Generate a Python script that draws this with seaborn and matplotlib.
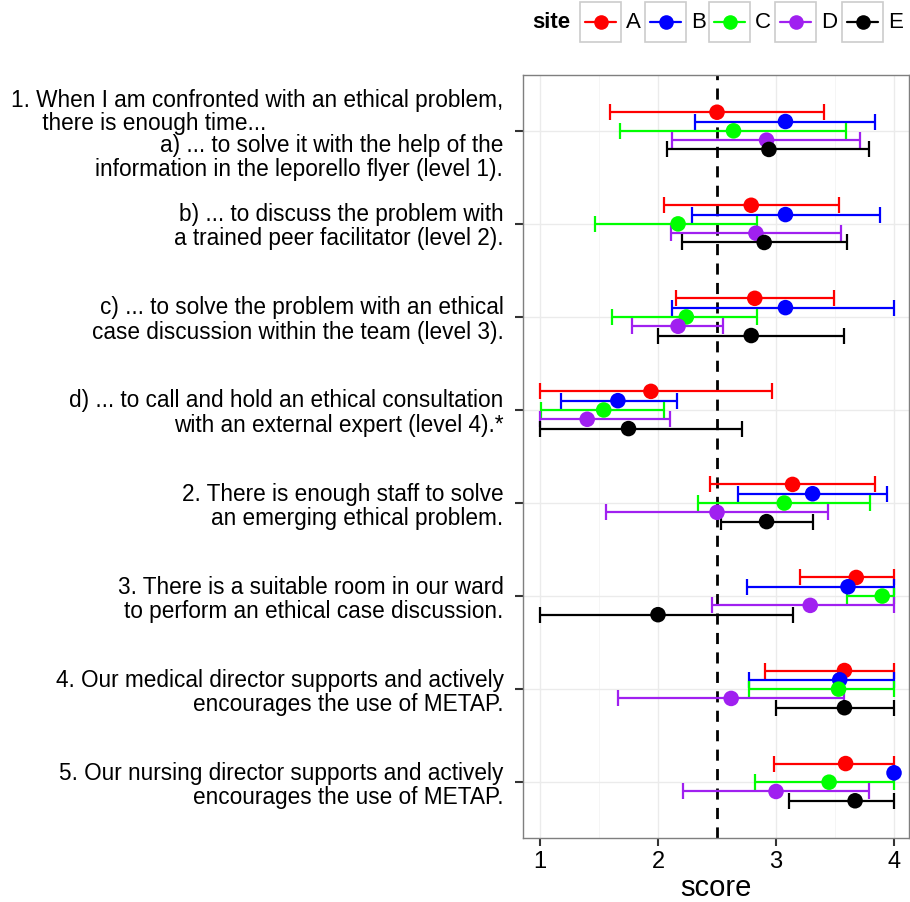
import numpy as np
import pandas as pd
import matplotlib
matplotlib.use("Agg")
import matplotlib.pyplot as plt
from matplotlib.patches import Rectangle
from matplotlib.lines import Line2D
import seaborn as sns

# questions, top to bottom (the first one has a two-line lead-in above it)
lead_in = "1. When I am confronted with an ethical problem,\n     there is enough time..."
questions = [
    "a) ... to solve it with the help of the\n"
    "information in the leporello flyer (level 1).",
    "b) ... to discuss the problem with\na trained peer facilitator (level 2).",
    "c) ... to solve the problem with an ethical\ncase discussion within the team (level 3).",
    "d) ... to call and hold an ethical consultation\nwith an external expert (level 4).*",
    "2. There is enough staff to solve\nan emerging ethical problem.",
    "3. There is a suitable room in our ward\nto perform an ethical case discussion.",
    "4. Our medical director supports and actively\nencourages the use of METAP.",
    "5. Our nursing director supports and actively\nencourages the use of METAP.",
]

sites = ["A", "B", "C", "D", "E"]
site_colors = ["#FF0000", "#0000FF", "#00FF00", "#A020F0", "#000000"]

# mean score and lower / upper end of the error bar, per site
mean_A = [2.50, 2.79, 2.82, 1.94, 3.14, 3.68, 3.58, 3.59]
low_A = [1.59, 2.05, 2.15, 1.00, 2.44, 3.20, 2.91, 2.98]
high_A = [3.41, 3.53, 3.49, 2.97, 3.84, 4.00, 4.00, 4.00]

mean_B = [3.08, 3.08, 3.08, 1.66, 3.31, 3.61, 3.54, 4.00]
low_B = [2.31, 2.29, 2.12, 1.18, 2.68, 2.75, 2.77, 4.00]
high_B = [3.84, 3.88, 4.00, 2.16, 3.94, 4.00, 4.00, 4.00]

mean_C = [2.64, 2.17, 2.24, 1.54, 3.07, 3.90, 3.53, 3.45]
low_C = [1.68, 1.47, 1.61, 1.01, 2.34, 3.60, 2.77, 2.82]
high_C = [3.59, 2.84, 2.84, 2.05, 3.80, 4.00, 4.00, 4.00]

mean_D = [2.92, 2.83, 2.17, 1.40, 2.50, 3.29, 2.62, 3.00]
low_D = [2.12, 2.11, 1.78, 1.00, 1.56, 2.46, 1.66, 2.21]
high_D = [3.71, 3.55, 2.55, 2.10, 3.44, 4.00, 3.58, 3.79]

mean_E = [2.94, 2.90, 2.79, 1.75, 2.92, 2.00, 3.58, 3.67]
low_E = [2.08, 2.20, 2.00, 1.00, 2.53, 1.00, 3.00, 3.11]
high_E = [3.79, 3.60, 3.58, 2.71, 3.31, 3.14, 4.00, 4.00]

means = [mean_A, mean_B, mean_C, mean_D, mean_E]
lows = [low_A, low_B, low_C, low_D, low_E]
highs = [high_A, high_B, high_C, high_D, high_E]

rows = []
for si, s in enumerate(sites):
    for qi in range(len(questions)):
        rows.append({"site": s, "q": qi, "ypos": qi + (si - 2) * 0.1,
                     "score": means[si][qi], "low": lows[si][qi], "high": highs[si][qi]})
df = pd.DataFrame(rows)

sns.set_theme(style="white")
plt.rcParams["font.family"] = ["Liberation Sans", "DejaVu Sans"]
plt.rcParams["text.color"] = "black"

W, H = 910, 902
fig = plt.figure(figsize=(W / 100, H / 100), dpi=100)
ax = fig.add_axes([523 / W, (H - 838) / H, (909 - 523) / W, (838 - 75) / H])

# grid like theme_bw
for v in [1, 2, 3, 4]:
    ax.axvline(v, color="#EBEBEB", lw=1.0, zorder=0)
for v in [1.5, 3.5]:
    ax.axvline(v, color="#F4F4F4", lw=0.6, zorder=0)
for qi in range(len(questions)):
    ax.axhline(qi, color="#EBEBEB", lw=1.0, zorder=0)

ax.axvline(2.5, color="black", lw=2, ls=(0, (4, 3)), zorder=1)

for si, s in enumerate(sites):
    d = df[df["site"] == s]
    ax.errorbar(d["score"], d["ypos"],
                xerr=[d["score"] - d["low"], d["high"] - d["score"]],
                fmt="none", ecolor=site_colors[si], elinewidth=1.6,
                capsize=6, capthick=1.6, zorder=2)

sns.scatterplot(data=df, x="score", y="ypos", hue="site", palette=site_colors,
                s=125, edgecolor="none", legend=False, ax=ax, zorder=3)

ax.set_xlim(0.856, 4.127)
ax.set_ylim(7.6, -0.6)
ax.set_xticks([1, 2, 3, 4])
ax.set_xticklabels(["1", "2", "3", "4"], fontsize=17)
ax.set_yticks(range(len(questions)))
# first label is drawn below its tick, under the lead-in text
ax.set_yticklabels([""] + questions[1:], fontsize=16.3, linespacing=1.06)
ax.annotate(questions[0], xy=(0, 0), xycoords=("axes fraction", "data"),
            xytext=(-14.4, -19.5), textcoords="offset points",
            ha="right", va="center", fontsize=16.3, linespacing=1.06)
fig.text(11 / W, 1 - 112 / H, lead_in, fontsize=16.3, linespacing=1.02,
         ha="left", va="center")
ax.tick_params(axis="both", which="both", length=6, width=1.5, color="#333333",
               labelcolor="black", direction="out", left=True, bottom=True)
ax.tick_params(axis="y", pad=8)
ax.tick_params(axis="x", pad=3)
ax.set_xlabel("score", fontsize=21, labelpad=1, color="black")
ax.set_ylabel("")
for sp in ax.spines.values():
    sp.set_color("#7F7F7F")
    sp.set_linewidth(1.0)

# legend drawn on top, ggplot-like with boxed keys
lax = fig.add_axes([0, 0, 1, 1])
lax.set_xlim(0, W)
lax.set_ylim(H, 0)
lax.axis("off")
lax.text(532, 22, "site", fontsize=16, fontweight="bold", ha="left", va="center")
box_left = [580, 645, 709, 775, 842]
for si, s in enumerate(sites):
    x0 = box_left[si]
    lax.add_patch(Rectangle((x0, 2), 41, 40, facecolor="white",
                            edgecolor="#CCCCCC", lw=1.2))
    lax.add_line(Line2D([x0 + 5, x0 + 36], [22, 22], color=site_colors[si], lw=1.6))
    lax.plot([x0 + 20.5], [22], "o", color=site_colors[si], ms=10.5, mec="none")
    lax.text(x0 + 46, 22, s, fontsize=16, ha="left", va="center")

fig.savefig("out.png", dpi=100)
